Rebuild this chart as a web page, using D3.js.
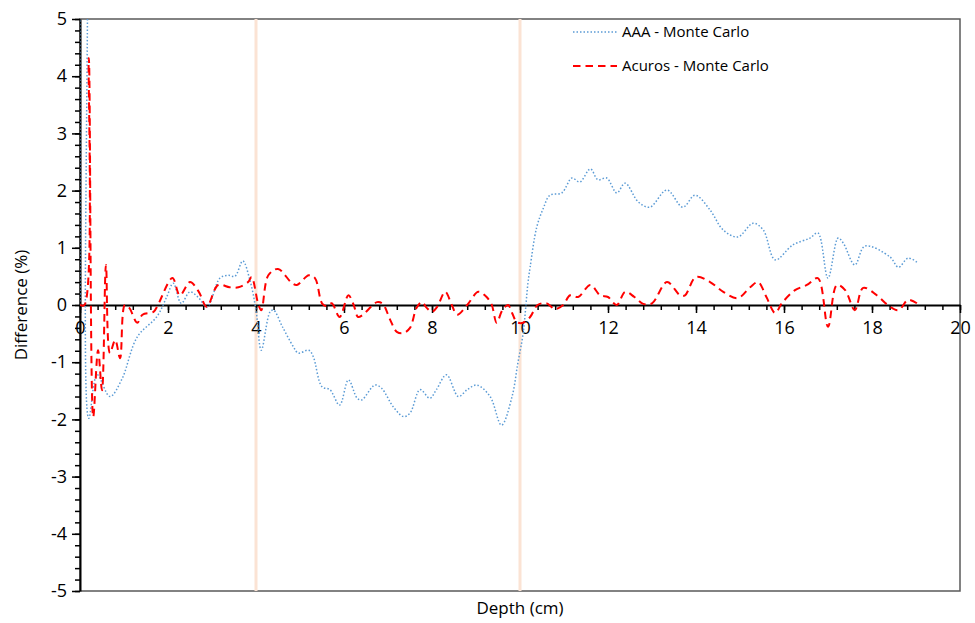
<!DOCTYPE html>
<html lang="en">
<head>
<meta charset="utf-8">
<title>Depth difference</title>
<script src="https://cdn.jsdelivr.net/npm/d3@7"></script>
<style>
  body { margin: 0; background: #fff; }
  svg text { font-family: "Open Sans", "Noto Sans", sans-serif; fill: #000; }
</style>
</head>
<body>
<script>
// AAA - Monte Carlo (depth cm, difference %)
var aaaDepth = [0, 0.02, 0.18, 0.2, 0.39, 0.68, 0.95, 1.3, 1.75, 1.97, 2.12, 2.3, 2.5, 2.68, 2.89, 3.18, 3.37, 3.52, 3.7, 3.86, 4.0, 4.12,
  4.32, 4.4, 4.6, 4.85, 4.96, 5.2, 5.3, 5.5, 5.68, 5.9, 6.1, 6.3, 6.4, 6.7, 6.85, 7.12, 7.35, 7.5, 7.73, 7.95, 8.1, 8.33, 8.6, 8.8, 9.02,
  9.32, 9.58, 9.82, 9.95, 10.07, 10.18, 10.23, 10.38, 10.53, 10.68, 10.95, 11.18, 11.36, 11.6, 11.77, 11.97, 12.2, 12.39, 12.69, 12.95,
  13.34, 13.7, 13.98, 14.32, 14.62, 14.95, 15.3, 15.53, 15.8, 16.2, 16.59, 16.77, 17.0, 17.23, 17.35, 17.61, 17.84, 18.41, 18.6, 18.82, 19.02];
var aaaDiff = [0, 20, 8, -1.98, -1.22, -1.6, -1.3, -0.56, -0.2, 0.14, 0.38, 0.03, 0.23, 0.14, -0.03, 0.47, 0.52, 0.5, 0.77, 0.44, -0.09, -0.79,
  -0.12, -0.09, -0.38, -0.73, -0.84, -0.79, -0.9, -1.43, -1.48, -1.75, -1.31, -1.63, -1.66, -1.4, -1.45, -1.78, -1.95, -1.89, -1.48, -1.63, -1.48, -1.22, -1.6, -1.48, -1.4,
  -1.6, -2.1, -1.6, -1.02, -0.5, 0.38, 0.66, 1.36, 1.69, 1.92, 1.96, 2.22, 2.15, 2.38, 2.19, 2.22, 1.96, 2.13, 1.8, 1.71,
  2.01, 1.71, 1.92, 1.66, 1.31, 1.19, 1.43, 1.31, 0.79, 1.05, 1.17, 1.26, 0.47, 1.17, 1.08, 0.7, 1.03, 0.84, 0.66, 0.82, 0.75];

// Acuros - Monte Carlo
var acuDepth = [0, 0.1, 0.2, 0.3, 0.41, 0.5, 0.59, 0.68, 0.8, 0.91, 1.02, 1.12, 1.3, 1.42, 1.67, 1.77, 2.1, 2.27, 2.5, 2.7, 2.88, 3.14, 3.4, 3.6,
  3.82, 3.9, 4.05, 4.12, 4.28, 4.5, 4.82, 4.93, 5.2, 5.34, 5.5, 5.6, 5.72, 5.9, 6.1, 6.22, 6.32, 6.43, 6.75, 6.88, 7.05, 7.2, 7.35, 7.5, 7.65, 7.77,
  7.88, 8.0, 8.12, 8.3, 8.45, 8.57, 8.8, 9.05, 9.2, 9.35, 9.47, 9.6, 9.73, 9.82, 9.93, 10.07, 10.23, 10.4, 10.6, 10.8, 10.98, 11.14, 11.32, 11.6,
  11.82, 12.0, 12.2, 12.39, 12.6, 12.8, 13.0, 13.34, 13.64, 13.75, 14.0, 14.32, 14.62, 14.95, 15.23, 15.41, 15.6, 15.8, 15.95, 16.25, 16.52, 16.77,
  17.0, 17.2, 17.39, 17.61, 17.8, 18.11, 18.36, 18.6, 18.82, 19.02];
var acuDiff = [0, 0, 4.32, -1.96, -0.79, -1.49, 0.7, -0.84, -0.61, -0.93, 0, -0.05, -0.31, -0.17, -0.12, 0, 0.47, 0.17, 0.4, 0.23, -0.03, 0.35, 0.31, 0.31,
  0.4, 0.49, 0.02, -0.09, 0.52, 0.63, 0.38, 0.35, 0.52, 0.47, 0.03, -0.02, 0.03, -0.21, 0.17, 0, -0.21, -0.17, 0.05, 0.02, -0.26, -0.47, -0.49, -0.4, -0.05, 0.05,
  -0.05, -0.12, -0.03, 0.23, 0, -0.17, 0, 0.23, 0.17, 0.02, -0.31, -0.09, 0, -0.14, -0.3, -0.31, -0.21, 0, 0.03, -0.07, 0, 0.17, 0.14, 0.35,
  0.17, 0.14, 0, 0.23, 0.14, 0.02, 0.03, 0.4, 0.17, 0.17, 0.49, 0.4, 0.23, 0.12, 0.31, 0.4, 0.14, -0.14, 0.03, 0.26, 0.35, 0.47,
  -0.38, 0.35, 0.26, -0.09, 0.3, 0.17, 0, -0.09, 0.09, 0.03];

var markerDepths = [4, 10];
var seriesNames = ["AAA - Monte Carlo", "Acuros - Monte Carlo"];

var w = 975, h = 623;
var padL = 80, padR = 960, padT = 19, padB = 591;

var svg = d3.select("body").append("svg")
  .attr("width", w)
  .attr("height", h);

var xScale = d3.scaleLinear().domain([0, 20]).range([padL, padR]);
var yScale = d3.scaleLinear().domain([-5, 5]).range([padB, padT]);

// plot border
svg.append("rect")
  .attr("x", padL).attr("y", padT)
  .attr("width", padR - padL).attr("height", padB - padT)
  .attr("fill", "none")
  .attr("stroke", "#595959")
  .attr("stroke-width", 1.5);

// vertical marker lines
svg.selectAll("line.marker")
  .data(markerDepths)
  .enter()
  .append("line")
  .attr("class", "marker")
  .attr("x1", d => xScale(d)).attr("x2", d => xScale(d))
  .attr("y1", padT).attr("y2", padB)
  .attr("stroke", "#fbe3d4")
  .attr("stroke-width", 3);

// y axis, minor ticks first
svg.append("g")
  .attr("transform", "translate(" + padL + ",0)")
  .call(d3.axisLeft(yScale).tickValues(d3.range(-50, 51, 2).map(v => v / 10)).tickSize(5).tickFormat(""))
  .call(g => g.select(".domain").remove())
  .selectAll("line").attr("stroke", "#000").attr("stroke-width", 1.5);

var yAxis = svg.append("g")
  .attr("transform", "translate(" + padL + ",0)")
  .call(d3.axisLeft(yScale).tickValues(d3.range(-5, 6)).tickSize(8).tickPadding(5).tickSizeOuter(0)
    .tickFormat(d => String(d)));
yAxis.select(".domain").attr("stroke", "#000").attr("stroke-width", 2);
yAxis.selectAll("line").attr("stroke", "#000").attr("stroke-width", 1.5);
yAxis.selectAll("text").style("font-size", "18px").attr("font-family", null);

// x axis at zero
svg.append("g")
  .attr("transform", "translate(0," + yScale(0) + ")")
  .call(d3.axisBottom(xScale).tickValues(d3.range(0, 201, 4).map(v => v / 10)).tickSize(5).tickFormat(""))
  .call(g => g.select(".domain").remove())
  .selectAll("line").attr("stroke", "#000").attr("stroke-width", 1.5);

var xAxis = svg.append("g")
  .attr("transform", "translate(0," + yScale(0) + ")")
  .call(d3.axisBottom(xScale).tickValues(d3.range(0, 21, 2)).tickSize(8).tickPadding(8).tickSizeOuter(0)
    .tickFormat(d => String(d)));
xAxis.select(".domain").attr("stroke", "#000").attr("stroke-width", 2);
xAxis.selectAll("line").attr("stroke", "#000").attr("stroke-width", 1.5);
xAxis.selectAll("text").style("font-size", "18px").attr("font-family", null);

// clip
svg.append("clipPath").attr("id", "plot")
  .append("rect")
  .attr("x", padL).attr("y", padT)
  .attr("width", padR - padL).attr("height", padB - padT);

var line = d3.line()
  .x(d => xScale(d[0]))
  .y(d => yScale(d[1]))
  .curve(d3.curveCatmullRom.alpha(0.5));

var aaa = d3.zip(aaaDepth, aaaDiff);
var acu = d3.zip(acuDepth, acuDiff);

svg.append("path")
  .datum(aaa)
  .attr("clip-path", "url(#plot)")
  .attr("d", line)
  .attr("fill", "none")
  .attr("stroke", "#5b9bd5")
  .attr("stroke-width", 1.5)
  .attr("stroke-dasharray", "1.5,2");

svg.append("path")
  .datum(acu)
  .attr("clip-path", "url(#plot)")
  .attr("d", line)
  .attr("fill", "none")
  .attr("stroke", "#ff0000")
  .attr("stroke-width", 2)
  .attr("stroke-dasharray", "7.5,5");

// legend
var legend = svg.append("g");
var legendStyles = [
  {color: "#5b9bd5", width: 1.5, dash: "1.5,2"},
  {color: "#ff0000", width: 2, dash: "7.5,5"}
];
seriesNames.forEach(function(name, i) {
  var y = 32 + i * 34;
  legend.append("line")
    .attr("x1", 573).attr("x2", 617)
    .attr("y1", y).attr("y2", y)
    .attr("stroke", legendStyles[i].color)
    .attr("stroke-width", legendStyles[i].width)
    .attr("stroke-dasharray", legendStyles[i].dash);
  legend.append("text")
    .attr("x", 622).attr("y", y)
    .attr("dy", "0.35em")
    .style("font-size", "15px")
    .text(name);
});

// axis titles
svg.append("text")
  .attr("x", (padL + padR) / 2)
  .attr("y", 608)
  .attr("dy", "0.35em")
  .attr("text-anchor", "middle")
  .style("font-size", "17px")
  .text("Depth (cm)");

svg.append("text")
  .attr("transform", "translate(21," + yScale(0) + ") rotate(-90)")
  .attr("dy", "0.35em")
  .attr("text-anchor", "middle")
  .style("font-size", "17px")
  .text("Difference (%)");
</script>
</body>
</html>
